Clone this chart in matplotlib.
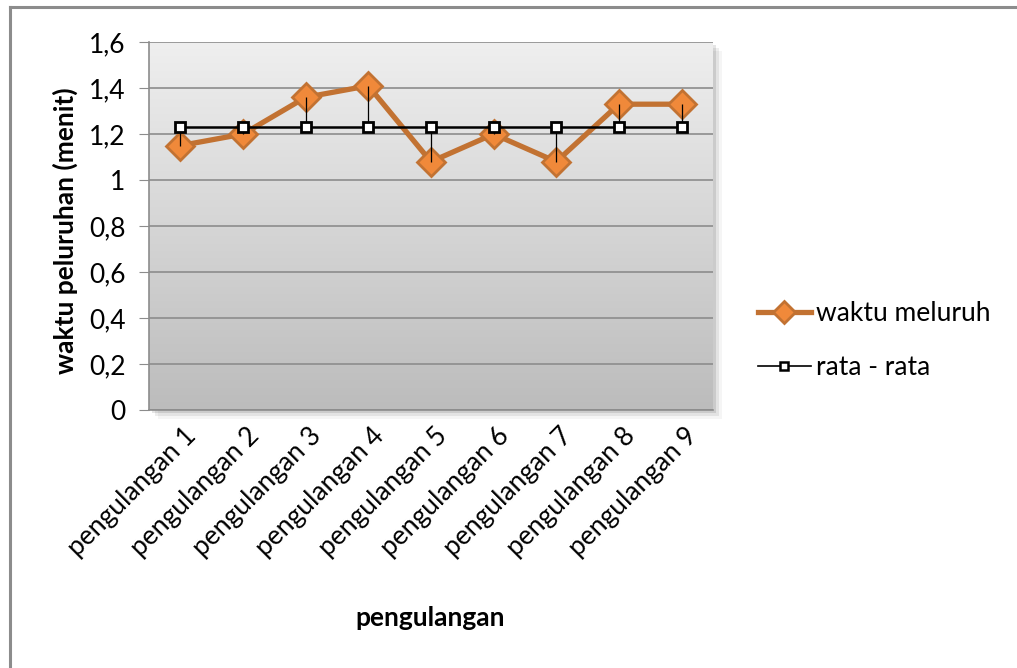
import numpy as np
import matplotlib
matplotlib.use("Agg")
import matplotlib.pyplot as plt
from matplotlib.ticker import FuncFormatter
from matplotlib.lines import Line2D
from matplotlib.patches import Rectangle

plt.rcParams['font.family'] = ['Lato', 'DejaVu Sans']

# data
categories = ["pengulangan %d" % i for i in range(1, 10)]
waktu = [1.15, 1.20, 1.36, 1.41, 1.08, 1.20, 1.08, 1.33, 1.33]
rata = [1.23] * 9

fig = plt.figure(figsize=(10.17, 6.68), dpi=100)
ax = fig.add_axes([0.1465, 0.386, 0.5545, 0.551])
ax.set_zorder(2)

# shadow of plot area
for k, a in enumerate([0.10, 0.07, 0.04]):
    d = (k + 1) * 0.003
    fig.patches.append(Rectangle((0.1465 + d, 0.386 - d * 1.5), 0.5545, 0.551,
                                 transform=fig.transFigure, color='black',
                                 alpha=a, zorder=-1, lw=0))

# gradient background
grad = np.linspace(0, 1, 256).reshape(-1, 1)
cmap = matplotlib.colors.LinearSegmentedColormap.from_list("g", ["#efefef", "#bcbcbc"])
ax.imshow(grad, extent=[-0.5, 8.5, 0, 1.6], aspect='auto', cmap=cmap,
          origin='upper', zorder=0)

x = np.arange(len(categories))
ax.plot(x, waktu, color='#c27232', lw=3.8, marker='D', markersize=14,
        markerfacecolor='#f0893a', markeredgecolor='#c27232', markeredgewidth=2,
        zorder=3)
ax.vlines(x, rata, waktu, color='black', lw=0.9, zorder=4)
ax.plot(x, rata, color='black', lw=1.8, marker='s', markersize=7.5,
        markerfacecolor='white', markeredgecolor='black', markeredgewidth=2,
        zorder=5)

ax.set_xlim(-0.5, 8.5)
ax.set_ylim(0, 1.6)
ax.set_yticks(np.arange(0, 1.61, 0.2))
ax.yaxis.set_major_formatter(FuncFormatter(lambda v, p: ("%g" % round(v, 1)).replace('.', ',')))
ax.grid(axis='y', color='#8c8c8c', lw=1.2, zorder=1)
ax.set_axisbelow(False)
for s in ['top', 'right']:
    ax.spines[s].set_visible(False)
ax.spines['left'].set_color('#8c8c8c')
ax.spines['bottom'].set_color('#8c8c8c')
ax.spines['left'].set_linewidth(1.2)
ax.spines['bottom'].set_linewidth(1.2)
ax.tick_params(axis='y', length=7, color='#8c8c8c', labelsize=19, pad=10)
ax.tick_params(axis='x', length=0, labelsize=19, pad=10)
ax.set_xticks(x)
ax.set_xticklabels(categories, rotation=45, ha='right', va='center',
                   rotation_mode='anchor')
for t in ax.get_xticklabels():
    t.set_transform(t.get_transform() + matplotlib.transforms.ScaledTranslation(0.12, -0.08, fig.dpi_scale_trans))

fig.text(0.064, 0.655, "waktu peluruhan (menit)", rotation=90, ha='center', va='center',
         fontsize=19, fontweight='bold')
fig.text(0.423, 0.075, "pengulangan", ha='center', va='center',
         fontsize=19, fontweight='bold')

handles = [Line2D([], [], color='#c27232', lw=3.8, marker='D', markersize=11,
                  markerfacecolor='#f0893a', markeredgecolor='#c27232', markeredgewidth=2),
           Line2D([], [], color='black', lw=1.2, marker='s', markersize=6,
                  markerfacecolor='white', markeredgecolor='black', markeredgewidth=1.8)]
fig.legend(handles, ["waktu meluruh", "rata - rata"], loc='center left',
           bbox_to_anchor=(0.722, 0.49), frameon=False, fontsize=19,
           handlelength=2.0, handletextpad=0.2, labelspacing=1.1)

# outer border (left and top visible)
fig.add_artist(Line2D([0.010, 0.010], [0.0, 0.989], transform=fig.transFigure,
                      color='#8c8c8c', lw=2.2))
fig.add_artist(Line2D([0.010, 1.0], [0.989, 0.989], transform=fig.transFigure,
                      color='#8c8c8c', lw=2.2))

fig.savefig("out.png", dpi=100)
